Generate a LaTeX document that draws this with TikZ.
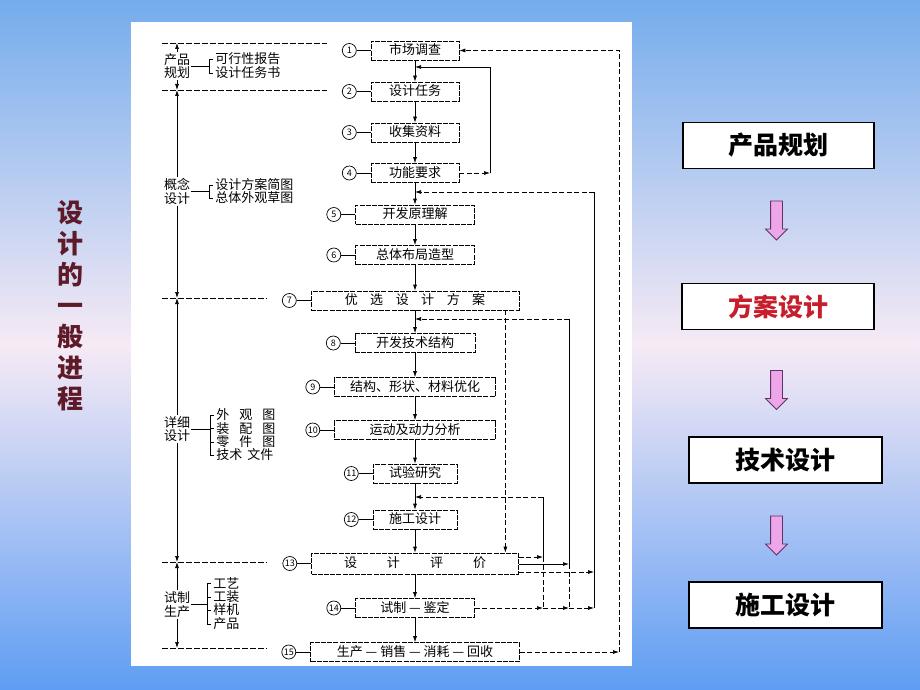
\documentclass[tikz,border=0pt]{standalone}
\usepackage{fontspec}
\setmainfont{Noto Sans CJK SC}
\usetikzlibrary{positioning}
\usetikzlibrary{shapes}
\usetikzlibrary{arrows.meta}

\definecolor{skyblue}{HTML}{74ACEC}
\definecolor{pinkmist}{HTML}{F6EAF5}
\definecolor{deepblue}{HTML}{5E9DF3}
\definecolor{titlered}{HTML}{5E1A28}
\definecolor{arrowpink}{HTML}{EDA6E8}
\definecolor{arrowedge}{HTML}{5E3468}
\definecolor{planred}{HTML}{C81E2C}

\begin{document}
\begin{tikzpicture}[
    x=1pt, y=-1pt,
    line width=0.7pt,
    font=\fontsize{13}{13}\selectfont
]
\tikzset{
    stepbox/.style = {draw=black, dash pattern=on 5pt off 1.2pt, fill=white, minimum height=19pt, inner sep=0pt, text height=10pt, text depth=2pt},
    numcirc/.style = {circle, draw=black, inner sep=0pt, minimum size=14pt, font=\fontsize{9}{9}\selectfont},
    phase/.style = {inner sep=1pt, align=center, font=\fontsize{13}{13.5}\selectfont},
    item/.style = {anchor=west, inner sep=0pt},
    sidebox/.style = {draw=black, line width=1.2pt, fill=white, minimum height=46pt, font=\fontsize{25}{25}\selectfont\bfseries},
    fatarrow/.style = {single arrow, draw=arrowedge, fill=arrowpink, line width=0.8pt, shape border rotate=270, minimum height=39pt, minimum width=21pt, single arrow head extend=5pt, single arrow head indent=0pt, inner sep=5.5pt},
    edgen/.style = {-{Latex[length=6pt,width=4pt]}},
    edged/.style = {-{Latex[length=6pt,width=4pt]}, dash pattern=on 5pt off 2.5pt},
    levline/.style = {dash pattern=on 6pt off 2pt},
    dline/.style = {dash pattern=on 5pt off 2.5pt}
}
\useasboundingbox (0,0) rectangle (920,690);
% background and paper
\shade[top color=skyblue, bottom color=deepblue, middle color=pinkmist] (0,0) rectangle (920,690);
\fill[white] (131,22) rectangle (632,666);

\node[font=\fontsize{26}{31}\selectfont\bfseries, text=titlered, align=center] at (70,306) (title) {设\\计\\的\\一\\般\\进\\程};

% main column
\node[stepbox, minimum width=88pt] at (415,50.5) (b1) {市场调查};
\node[stepbox, minimum width=88pt] at (415,91.5) (b2) {设计任务};
\node[stepbox, minimum width=88pt] at (415,132.5) (b3) {收集资料};
\node[stepbox, minimum width=88pt] at (415,173) (b4) {功能要求};
\node[stepbox, minimum width=119pt] at (415,214.5) (b5) {开发原理解};
\node[stepbox, minimum width=119pt] at (415,255) (b6) {总体布局造型};
\node[stepbox, minimum width=208pt] at (415,300.5) (b7) {优\hspace{12.5pt}选\hspace{12.5pt}设\hspace{12.5pt}计\hspace{12.5pt}方\hspace{12.5pt}案};
\node[stepbox, minimum width=120pt] at (415,343) (b8) {开发技术结构};
\node[stepbox, minimum width=161pt] at (415,387) (b9) {结构、形状、材料优化};
\node[stepbox, minimum width=161pt] at (415,430) (b10) {运动及动力分析};
\node[stepbox, minimum width=84pt] at (415,473.5) (b11) {试验研究};
\node[stepbox, minimum width=84pt] at (415,519.5) (b12) {施工设计};
\node[stepbox, minimum width=207pt, minimum height=21pt] at (415,563.5) (b13) {设\hspace{30pt}计\hspace{30pt}评\hspace{30pt}价};
\node[stepbox, minimum width=119pt] at (415,608) (b14) {试制 — 鉴定};
\node[stepbox, minimum width=209pt] at (415,652) (b15) {生产 — 销售 — 消耗 — 回收};

\foreach \i in {1,...,15}
    \node[numcirc, left=14pt of b\i] (c\i) {\i};
\foreach \i in {1,...,15}
    \draw (c\i) -- (b\i);
\foreach \a/\b in {1/2,2/3,3/4,4/5,5/6,6/7,7/8,8/9,9/10,10/11,11/12,12/13,13/14,14/15}
    \draw[edgen] (b\a) -- (b\b);

% feedback loops
\coordinate (aTop) at (543,497);
\coordinate (bTop) at (569,319);
\coordinate (cTop) at (594,192);
\coordinate (fTop) at (490,67);
\coordinate (aBot) at (543,608);
\coordinate (bBot) at (569,608);
\coordinate (cBot) at (594,608);
\coordinate (dBot) at (619,652);
\coordinate (aMid) at ([yshift=6.5pt]b13.east -| aTop);
\coordinate (bMid) at ([yshift=-0.5pt]b13.east -| bTop);
\coordinate (cMid) at ([yshift=-8.5pt]b13.east -| cTop);
\coordinate (eTop) at ([xshift=-14pt]b7.south east);
\coordinate (fBot) at (b4.east -| fTop);

\draw[edged] (b4.east) -- (fBot);
\draw[edgen] (fBot) -- (fTop) -- (fTop -| b1.south);
\draw[edged] (b15.east) -- (dBot);
\draw[edged] (dBot) |- (b1.east);
\draw (aTop) -- (aMid);
\draw[dline] (aMid) -- (aBot);
\draw (bTop) -- (bMid);
\draw[dline] (bMid) -- (bBot);
\draw (cTop) -- (cBot);
\draw[edged] (aTop) -- (aTop -| b11.south);
\draw[edged] (bTop) -- (bTop -| b7.south);
\draw[edged] (cTop) -- (cTop -| b4.south);
\draw[edged] (eTop) -- (eTop |- b13.north);
\draw[edged] ([yshift=6.5pt]b13.east) -- (aMid);
\draw[edgen] ([yshift=-0.5pt]b13.east) -- (bMid);
\draw[edged] ([yshift=-8.5pt]b13.east) -- (cMid);
\draw[edged] (b14.east) -- (aBot);
\draw[edged] (aBot) -- (bBot);
\draw[edged] (bBot) -- (cBot);

% phase axis
\draw[levline] (162,43) -- (327,43);
\draw[levline] (162,90) -- (327,90);
\draw[levline] (162,298) -- (267,298);
\draw[levline] (162,562) -- (267,562);
\draw[levline] (162,648) -- (267,648);
\coordinate (v0) at (177,43);
\coordinate (v1) at (177,90);
\coordinate (v2) at (177,298);
\coordinate (v3) at (177,562);
\coordinate (v4) at (177,648);
\node[phase] at (177,66) (p1) {产品\\规划};
\node[phase] at (177,191.5) (p2) {概念\\设计};
\node[phase] at (177,429) (p3) {详细\\设计};
\node[phase] at (177,604.5) (p4) {试制\\生产};
\draw[edgen] (p1.north) -- (v0);
\draw[edgen] (p1.south) -- (v1);
\draw[edgen] (p2.north) -- (v1);
\draw[edgen] (p2.south) -- (v2);
\draw[edgen] (p3.north) -- (v2);
\draw[edgen] (p3.south) -- (v3);
\draw[edgen] (p4.north) -- (v3);
\draw[edgen] (p4.south) -- (v4);

% output lists
\node[item] at (215,59) (i11) {可行性报告};
\node[item] at (215,73) (i12) {设计任务书};
\node[item] at (215,185) (i21) {设计方案简图};
\node[item] at (215,198) (i22) {总体外观草图};
\node[item] at (216,415) (i31) {外\hspace{10pt}观\hspace{10pt}图};
\node[item] at (216,428.5) (i32) {装\hspace{10pt}配\hspace{10pt}图};
\node[item] at (216,442) (i33) {零\hspace{10pt}件\hspace{10pt}图};
\node[item] at (216,455) (i34) {技术\hspace{5pt}文件};
\node[item] at (213,583) (i41) {工艺};
\node[item] at (213,597) (i42) {工装};
\node[item] at (213,610) (i43) {样机};
\node[item] at (213,624) (i44) {产品};
\coordinate (k1) at ([xshift=-6pt]i11.west);
\coordinate (k2) at ([xshift=-6pt]i21.west);
\coordinate (k3) at ([xshift=-6pt]i31.west);
\coordinate (k4) at ([xshift=-6pt]i41.west);
\draw ([xshift=-2pt]i11.west) -| ([xshift=-6pt]i12.west) -- ([xshift=-2pt]i12.west);
\draw ([xshift=-2pt]i21.west) -| ([xshift=-6pt]i22.west) -- ([xshift=-2pt]i22.west);
\draw ([xshift=-2pt]i31.west) -| ([xshift=-6pt]i34.west) -- ([xshift=-2pt]i34.west);
\draw ([xshift=-2pt]i41.west) -| ([xshift=-6pt]i44.west) -- ([xshift=-2pt]i44.west);
\foreach \j in {i32,i33,i42,i43}
    \draw ([xshift=-2pt]\j.west) -- ([xshift=-6pt]\j.west);
\draw (p1.east) -- (p1.east -| k1);
\draw (p2.east) -- (p2.east -| k2);
\draw (p3.east) -- (p3.east -| k3);
\draw (p4.east) -- (p4.east -| k4);

% stage summary
\node[sidebox, minimum width=191pt] at (778.5,145.5) (s1) {产品规划};
\node[sidebox, minimum width=192pt, text=planred] at (778,306.5) (s2) {方案设计};
\node[sidebox, minimum width=193pt] at (785.5,460) (s3) {技术设计};
\node[sidebox, minimum width=193pt] at (785.5,605) (s4) {施工设计};
\node[fatarrow] at (776.5,217.5) (a1) {};
\node[fatarrow] at (776.5,387) (a2) {};
\node[fatarrow] at (776.5,532.5) (a3) {};
\end{tikzpicture}
\end{document}
